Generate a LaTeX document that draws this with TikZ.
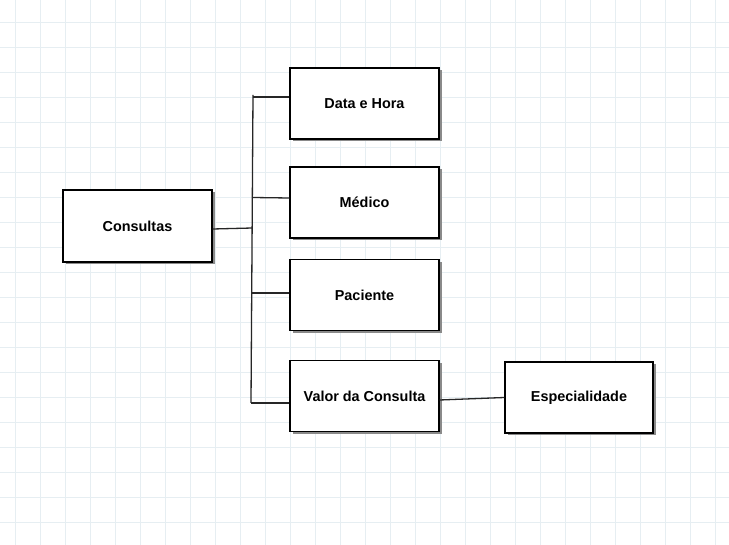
\documentclass[tikz,border=0pt]{standalone}
\usepackage{fontspec}
\setmainfont{Liberation Sans}
\usetikzlibrary{shadows}
\definecolor{gridc}{HTML}{E6EEF2}
\definecolor{shadowc}{HTML}{8A8A8A}
\tikzset{
  entbox/.style={draw=black, line width=1.3pt, fill=white, rectangle,
    minimum width=149pt, minimum height=71pt, inner sep=0pt,
    font=\fontsize{14.4}{17}\selectfont\bfseries,
    drop shadow={shadow xshift=2.5pt, shadow yshift=-2.5pt, fill=shadowc, opacity=1}},
  conn/.style={draw=black!85, line width=1.3pt}
}
\begin{document}
\begin{tikzpicture}[x=1pt,y=-1pt]
\useasboundingbox (0,0) rectangle (729,545);
\fill[white] (0,0) rectangle (729,545);
% grid
\foreach \gx in {15,40,...,715} {\draw[gridc, line width=0.9pt] (\gx,0) -- (\gx,545);}
\foreach \gy in {22.7,47.7,...,540} {\draw[gridc, line width=0.9pt] (0,\gy) -- (729,\gy);}
% nodes
\node[entbox, minimum height=72pt] (cons) at (137.5,226) {Consultas};
\node[entbox] (data) at (364.5,103.5) {Data e Hora};
\node[entbox] (med) at (364.5,202.5) {Médico};
\node[entbox] (pac) at (364.5,295) {Paciente};
\node[entbox] (val) at (364.5,396) {Valor da Consulta};
\node[entbox, minimum width=148pt] (esp) at (579,397.5) {Especialidade};
% bus
\coordinate (btop) at (253,95);
\coordinate (bbot) at (251,403);
\coordinate (b1) at (253,97);
\coordinate (b2) at (252.5,197.5);
\coordinate (b0) at (252.3,228);
\coordinate (b3) at (252,293);
\draw[conn] (btop) -- (bbot);
\draw[conn] ([yshift=-3pt]cons.east) -- (b0);
\draw[conn] (b1) -- ([yshift=6.5pt]data.west);
\draw[conn] (b2) -- ([yshift=4.5pt]med.west);
\draw[conn] (b3) -- ([yshift=2pt]pac.west);
\draw[conn] (bbot) -- ([yshift=-7pt]val.west);
\draw[conn] ([yshift=-4pt]val.east) -- (esp.west);
\end{tikzpicture}
\end{document}
